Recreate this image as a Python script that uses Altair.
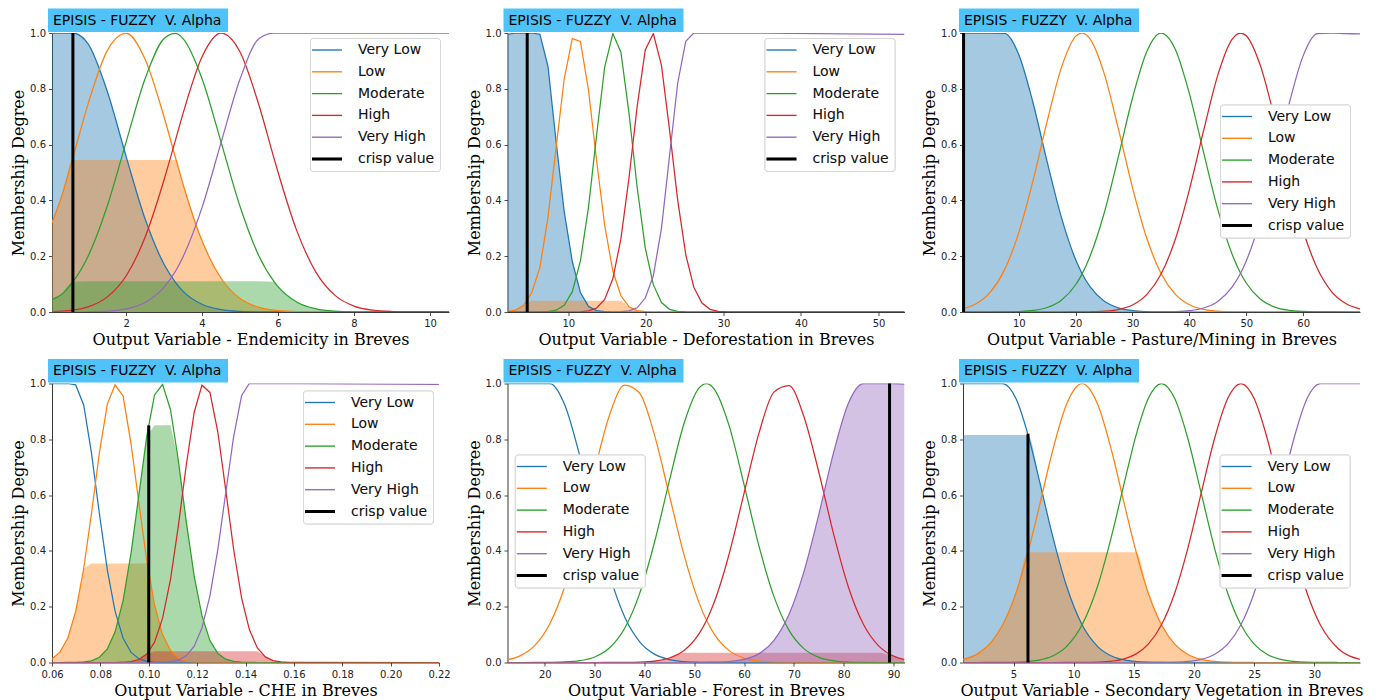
import altair as alt
import pandas as pd

SERIES = ["Very Low", "Low", "Moderate", "High", "Very High"]
LEGEND_DOMAIN = SERIES + ["crisp value"]
COLORS = ["#1f77b4", "#ff7f0e", "#2ca02c", "#d62728", "#9467bd", "#000000"]
BADGE = "EPISIS - FUZZY \u00a0V. Alpha"
Y_TICKS = [0.0, 0.2, 0.4, 0.6, 0.8, 1.0]

# ---------------- Panel 1: Endemicity ----------------
P1_X = [0.05, 0.3, 0.6, 1.0, 1.5, 2.0, 2.5, 3.0, 3.3, 3.5, 4.0, 4.5, 5.0, 5.5, 5.9, 6.0, 6.5, 7.0, 7.5, 8.0, 8.5, 9.0, 9.5, 10.0, 10.5]
P1_VL = [1.0, 1.0, 1.0, 0.961, 0.793, 0.558, 0.334, 0.171, 0.106, 0.074, 0.0276, 0.0087, 0.0023, 0.0005, 0.0001, 0.0001, 0, 0, 0, 0, 0, 0, 0, 0, 0]
P1_L = [0.32, 0.413, 0.553, 0.746, 0.936, 0.999, 0.906, 0.699, 0.553, 0.458, 0.255, 0.121, 0.0485, 0.0166, 0.0063, 0.0048, 0.0012, 0.0003, 0, 0, 0, 0, 0, 0, 0]
P1_M = [0.045, 0.063, 0.108, 0.2, 0.378, 0.609, 0.836, 0.98, 0.999, 0.98, 0.836, 0.609, 0.378, 0.2, 0.108, 0.0907, 0.035, 0.0115, 0.0032, 0.0008, 0.0002, 0, 0, 0, 0]
P1_H = [0.0016, 0.0033, 0.0071, 0.0185, 0.0533, 0.129, 0.268, 0.474, 0.616, 0.712, 0.915, 1.0, 0.932, 0.74, 0.548, 0.501, 0.289, 0.142, 0.0595, 0.0212, 0.0064, 0.0017, 0.0004, 0.0001, 0]
P1_VH = [0, 0, 0, 0.0007, 0.0031, 0.011, 0.034, 0.089, 0.146, 0.198, 0.375, 0.607, 0.835, 0.98, 1.0, 1.0, 1.0, 1.0, 1.0, 1.0, 1.0, 1.0, 1.0, 1.0, 1.0]
P1_FILL = {"Very Low": 1.0, "Low": 0.545, "Moderate": 0.11}
P1_CRISP = [0.6, 1.0]
P1_DOMAIN = [0.05, 10.5]
P1_TICKS = [2, 4, 6, 8, 10]
P1_TITLE = "Output Variable - Endemicity in Breves"

# ---------------- Panel 2: Deforestation ----------------
P2_X = [2.17, 3.21, 4.26, 5.30, 6.35, 7.39, 8.44, 9.48, 10.53, 11.57, 12.61, 13.66, 14.70, 15.75, 16.79, 17.84, 18.88, 19.93, 20.97, 22.02, 23.06, 24.11, 25.15, 26.19, 27.24, 28.28, 29.33, 30.37, 31.42, 53.35]
P2_VL = [0.995, 1.0, 1.0, 1.0, 0.995, 0.88, 0.61, 0.36, 0.18, 0.07, 0.02, 0.005, 0.001, 0, 0, 0, 0, 0, 0, 0, 0, 0, 0, 0, 0, 0, 0, 0, 0, 0]
P2_L = [0.002, 0.007, 0.024, 0.07, 0.16, 0.34, 0.59, 0.835, 0.98, 0.97, 0.795, 0.542, 0.31, 0.147, 0.058, 0.019, 0.005, 0.001, 0, 0, 0, 0, 0, 0, 0, 0, 0, 0, 0, 0]
P2_M = [0, 0, 0, 0, 0.0003, 0.0014, 0.0065, 0.024, 0.073, 0.183, 0.375, 0.635, 0.878, 0.998, 0.931, 0.711, 0.448, 0.23, 0.098, 0.034, 0.0096, 0.0023, 0.0005, 0, 0, 0, 0, 0, 0, 0]
P2_H = [0, 0, 0, 0, 0, 0, 0, 0, 0, 0.0008, 0.0038, 0.0144, 0.045, 0.119, 0.262, 0.482, 0.735, 0.939, 0.998, 0.884, 0.653, 0.401, 0.206, 0.089, 0.032, 0.0095, 0.0024, 0.0005, 0, 0]
P2_VH = [0, 0, 0, 0, 0, 0, 0, 0, 0, 0, 0, 0, 0, 0, 0.001, 0.004, 0.015, 0.05, 0.13, 0.3, 0.56, 0.82, 0.97, 1.0, 1.0, 1.0, 1.0, 1.0, 1.0, 0.995]
P2_FILL = {"Very Low": 1.0, "Low": 0.04}
P2_CRISP = [4.71, 1.0]
P2_DOMAIN = [2.17, 53.35]
P2_TICKS = [10, 20, 30, 40, 50]
P2_TITLE = "Output Variable - Deforestation in Breves"

# ---------------- Panel 3: Pasture/Mining ----------------
P3_X = [0.2, 2.5, 5, 7.5, 10, 12.5, 15, 17.5, 20, 21.1, 22.5, 25, 27.5, 30, 32.5, 35, 37.5, 40, 42.5, 45, 47.5, 49, 50, 52.5, 55, 57.5, 60, 62.5, 65, 67.5, 70]
P3_VL = [1.0, 1.0, 1.0, 0.999, 0.923, 0.751, 0.538, 0.339, 0.188, 0.139, 0.0917, 0.0394, 0.0149, 0.005, 0.0015, 0.0004, 0.0001, 0, 0, 0, 0, 0, 0, 0, 0, 0, 0, 0, 0, 0, 0]
P3_L = [0.0116, 0.0293, 0.071, 0.151, 0.284, 0.47, 0.684, 0.876, 0.988, 1.0, 0.98, 0.856, 0.658, 0.446, 0.265, 0.139, 0.0643, 0.0261, 0.0093, 0.0029, 0.0008, 0.0004, 0.0002, 0, 0, 0, 0, 0, 0, 0, 0]
P3_M = [0, 0, 0, 0.0004, 0.0016, 0.0055, 0.0162, 0.0424, 0.0976, 0.135, 0.198, 0.353, 0.555, 0.767, 0.933, 1.0, 0.943, 0.783, 0.572, 0.368, 0.208, 0.139, 0.104, 0.0455, 0.0176, 0.006, 0.0018, 0.0005, 0.0001, 0, 0]
P3_H = [0, 0, 0, 0, 0, 0, 0, 0, 0.0002, 0.0004, 0.0008, 0.0028, 0.0089, 0.0251, 0.0622, 0.135, 0.259, 0.438, 0.65, 0.849, 0.977, 1.0, 0.99, 0.882, 0.693, 0.478, 0.291, 0.156, 0.0734, 0.0304, 0.0111]
P3_VH = [0, 0, 0, 0, 0, 0, 0, 0, 0, 0, 0, 0, 0, 0, 0, 0.0004, 0.0014, 0.0047, 0.0143, 0.038, 0.0889, 0.139, 0.183, 0.332, 0.529, 0.743, 0.918, 0.998, 1.0, 0.998, 0.997]
P3_FILL = {"Very Low": 1.0}
P3_CRISP = [0.3, 1.0]
P3_DOMAIN = [0.2, 70]
P3_TICKS = [10, 20, 30, 40, 50, 60]
P3_TITLE = "Output Variable - Pasture/Mining in Breves"

# ---------------- Panel 4: CHE ----------------
P4_X = [0.0600, 0.0633, 0.0665, 0.0698, 0.0731, 0.0763, 0.0796, 0.0829, 0.0861, 0.0894, 0.0927, 0.0959, 0.0992, 0.1024, 0.1057, 0.1090, 0.1122, 0.1155, 0.1188, 0.1220, 0.1253, 0.1286, 0.1318, 0.1351, 0.1384, 0.1416, 0.1449, 0.1482, 0.1514, 0.1547, 0.1580, 0.1612, 0.2200]
P4_VL = [1.0, 1.0, 1.0, 0.995, 0.923, 0.752, 0.533, 0.33, 0.183, 0.087, 0.036, 0.0135, 0.0043, 0.0013, 0.0003, 0, 0, 0, 0, 0, 0, 0, 0, 0, 0, 0, 0, 0, 0, 0, 0, 0, 0]
P4_L = [0.0135, 0.037, 0.087, 0.183, 0.336, 0.533, 0.752, 0.927, 0.995, 0.955, 0.783, 0.573, 0.364, 0.206, 0.1, 0.043, 0.016, 0.005, 0.0015, 0.0004, 0, 0, 0, 0, 0, 0, 0, 0, 0, 0, 0, 0, 0]
P4_M = [0, 0, 0.0001, 0.0005, 0.0019, 0.0062, 0.0187, 0.049, 0.11, 0.223, 0.393, 0.6, 0.812, 0.959, 0.997, 0.906, 0.726, 0.506, 0.309, 0.168, 0.0786, 0.0321, 0.0119, 0.0037, 0.001, 0.0003, 0, 0, 0, 0, 0, 0, 0]
P4_H = [0, 0, 0, 0, 0, 0, 0, 0, 0, 0.0009, 0.0035, 0.0107, 0.0303, 0.0728, 0.158, 0.298, 0.487, 0.707, 0.897, 0.994, 0.968, 0.824, 0.62, 0.405, 0.231, 0.118, 0.052, 0.02, 0.007, 0.002, 0.0005, 0.0001, 0]
P4_VH = [0, 0, 0, 0, 0, 0, 0, 0, 0, 0, 0, 0, 0, 0.0002, 0.0008, 0.0028, 0.0086, 0.0238, 0.0584, 0.124, 0.239, 0.407, 0.606, 0.81, 0.957, 1.0, 1.0, 1.0, 1.0, 1.0, 1.0, 1.0, 0.997]
P4_FILL = {"Low": 0.355, "Moderate": 0.85, "High": 0.04}
P4_CRISP = [0.1, 0.85]
P4_DOMAIN = [0.06, 0.22]
P4_TICKS = [0.06, 0.08, 0.10, 0.12, 0.14, 0.16, 0.18, 0.20, 0.22]
P4_TITLE = "Output Variable - CHE in Breves"

# ---------------- Panel 5: Forest ----------------
P5_X = [12.5, 15, 18, 21, 24, 27, 30, 33, 36, 39, 42, 45, 48, 51, 52.4, 54, 57, 60, 63, 66, 69, 72, 75, 78, 81, 84, 87, 90, 92.2]
P5_VL = [1.0, 1.0, 1.0, 1.0, 0.923, 0.741, 0.516, 0.313, 0.164, 0.0752, 0.0299, 0.0103, 0.0031, 0.0008, 0.0004, 0.0002, 0, 0, 0, 0, 0, 0, 0, 0, 0, 0, 0, 0, 0]
P5_L = [0.0096, 0.0236, 0.0614, 0.139, 0.2725, 0.465, 0.689, 0.888, 0.994, 0.966, 0.816, 0.599, 0.382, 0.212, 0.153, 0.1019, 0.0426, 0.0155, 0.0049, 0.0013, 0.0003, 0, 0, 0, 0, 0, 0, 0, 0]
P5_M = [0, 0, 0.0001, 0.0005, 0.0018, 0.0065, 0.0198, 0.0528, 0.122, 0.246, 0.43, 0.652, 0.86, 0.985, 1.0, 0.98, 0.848, 0.637, 0.416, 0.236, 0.116, 0.0497, 0.0185, 0.006, 0.0017, 0.0004, 0, 0, 0]
P5_H = [0, 0, 0, 0, 0, 0, 0, 0.0001, 0.0003, 0.0014, 0.0051, 0.016, 0.0439, 0.1046, 0.149, 0.216, 0.389, 0.607, 0.823, 0.969, 0.992, 0.882, 0.682, 0.458, 0.267, 0.135, 0.0596, 0.0228, 0.0103]
P5_VH = [0, 0, 0, 0, 0, 0, 0, 0, 0, 0, 0, 0, 0, 0.0002, 0.0004, 0.0009, 0.0034, 0.0111, 0.0319, 0.0796, 0.172, 0.325, 0.531, 0.755, 0.932, 1.0, 1.0, 1.0, 0.998]
P5_FILL = {"High": 0.035, "Very High": 1.0}
P5_CRISP = [89.2, 1.0]
P5_DOMAIN = [12.5, 92.2]
P5_TICKS = [20, 30, 40, 50, 60, 70, 80, 90]
P5_TITLE = "Output Variable - Forest in Breves"

# ---------------- Panel 6: Secondary Vegetation ----------------
P6_X = [0.8, 2.0, 3.2, 4.1, 5.2, 6.2, 7.2, 8.2, 9.4, 10.7, 12.0, 13.2, 14.2, 15.2, 16.2, 17.3, 18.4, 19.5, 20.6, 21.7, 22.8, 23.9, 25.0, 26.1, 27.2, 28.3, 29.4, 30.5, 32.0, 33.8]
P6_VL = [1.0, 1.0, 1.0, 1.0, 0.946, 0.817, 0.643, 0.462, 0.275, 0.135, 0.057, 0.0223, 0.0092, 0.0035, 0.0012, 0.0003, 0, 0, 0, 0, 0, 0, 0, 0, 0, 0, 0, 0, 0, 0]
P6_L = [0.0111, 0.031, 0.0756, 0.135, 0.249, 0.395, 0.57, 0.751, 0.925, 1.0, 0.925, 0.751, 0.57, 0.395, 0.249, 0.135, 0.0657, 0.0286, 0.0111, 0.0039, 0.0012, 0.0003, 0, 0, 0, 0, 0, 0, 0, 0]
P6_M = [0, 0, 0.0001, 0.0003, 0.0012, 0.0035, 0.0092, 0.0223, 0.057, 0.135, 0.275, 0.462, 0.643, 0.817, 0.946, 1.0, 0.946, 0.801, 0.607, 0.411, 0.249, 0.135, 0.0657, 0.0286, 0.0111, 0.0039, 0.0012, 0.0003, 0, 0]
P6_H = [0, 0, 0, 0, 0, 0, 0, 0, 0.0001, 0.0003, 0.0015, 0.0052, 0.0133, 0.031, 0.0657, 0.135, 0.249, 0.411, 0.607, 0.801, 0.946, 1.0, 0.946, 0.801, 0.607, 0.411, 0.249, 0.135, 0.0492, 0.0111]
P6_VH = [0, 0, 0, 0, 0, 0, 0, 0, 0, 0, 0, 0, 0, 0, 0.0001, 0.0003, 0.0012, 0.0039, 0.0111, 0.0286, 0.0657, 0.135, 0.249, 0.411, 0.607, 0.801, 0.946, 1.0, 1.0, 1.0]
P6_FILL = {"Very Low": 0.815, "Low": 0.395}
P6_CRISP = [6.2, 0.82]
P6_DOMAIN = [0.8, 33.8]
P6_TICKS = [5, 10, 15, 20, 25, 30]
P6_TITLE = "Output Variable - Secondary Vegetation in Breves"


def panel(xs, curves, fills, crisp, domain, ticks, xtitle, fmt, interp, legend_xy, width, height):
    rows = []
    for name, ys in zip(SERIES, curves):
        for x, y in zip(xs, ys):
            rows.append({"kind": "curve", "x": x, "y": y, "y1": None, "series": name, "t": None})
    for name, level in fills.items():
        ys = curves[SERIES.index(name)]
        for x, y in zip(xs, ys):
            rows.append({"kind": "fill", "x": x, "y": min(y, level), "y1": None, "series": name, "t": None})
    rows.append({"kind": "crisp", "x": crisp[0], "y": 0.0, "y1": crisp[1], "series": "crisp value", "t": None})
    rows.append({"kind": "badge", "x": None, "y": None, "y1": None, "series": None, "t": BADGE})
    df = pd.DataFrame(rows)

    xscale = alt.Scale(domain=domain, nice=False, zero=False)
    yscale = alt.Scale(domain=[0, 1], nice=False)
    xaxis = alt.Axis(values=ticks, format=fmt, title=xtitle, grid=False,
                     labelFlush=False, labelOverlap=False)
    yaxis = alt.Axis(values=Y_TICKS, format=".1f", title="Membership Degree", grid=False,
                     labelFlush=False, labelOverlap=False)
    cscale = alt.Scale(domain=LEGEND_DOMAIN, range=COLORS)
    legend = alt.Legend(
        title=None, orient="none", legendX=legend_xy[0], legendY=legend_xy[1],
        symbolType="M-1,0H2", symbolSize=400, labelOffset=29,
        symbolStrokeWidth={"expr": "datum.value == 'crisp value' ? 3 : 1.3"},
        labelFont="DejaVu Sans", labelFontSize=14, labelColor="#111111",
        rowPadding=7.8, padding=5,
        fillColor="rgba(255,255,255,0.85)", strokeColor="#d6d6d6", cornerRadius=3,
    )

    base = alt.Chart(df)
    area = base.transform_filter(alt.datum.kind == "fill").mark_area(
        opacity=0.4, interpolate=interp, clip=True).encode(
        x=alt.X("x:Q", scale=xscale, axis=xaxis),
        y=alt.Y("y:Q", scale=yscale, axis=yaxis, stack=False),
        fill=alt.Fill("series:N", scale=cscale, legend=None),
    )
    lines = base.transform_filter(alt.datum.kind == "curve").mark_line(
        strokeWidth=1.25, interpolate=interp, clip=True).encode(
        x=alt.X("x:Q", scale=xscale, axis=xaxis),
        y=alt.Y("y:Q", scale=yscale, axis=yaxis),
        color=alt.Color("series:N", scale=cscale, legend=legend),
    )
    rule = base.transform_filter(alt.datum.kind == "crisp").mark_rule(strokeWidth=3).encode(
        x=alt.X("x:Q", scale=xscale, axis=xaxis),
        y=alt.Y("y:Q", scale=yscale, axis=yaxis),
        y2="y1:Q",
        color=alt.Color("series:N", scale=cscale, legend=legend),
    )
    brect = base.transform_filter(alt.datum.kind == "badge").mark_rect(color="#4fc3f7").encode(
        x=alt.value(-4), x2=alt.value(176), y=alt.value(-24.5), y2=alt.value(-1)
    )
    btext = base.transform_filter(alt.datum.kind == "badge").mark_text(
        align="left", baseline="middle", font="DejaVu Sans", fontSize=14, color="#000000").encode(
        x=alt.value(1), y=alt.value(-12.5), text="t:N"
    )
    return alt.layer(area, lines, rule, brect, btext).properties(
        width=width, height=height
    ).resolve_legend(color="independent")


W, H = 397, 279
p1 = panel(P1_X, [P1_VL, P1_L, P1_M, P1_H, P1_VH], P1_FILL, P1_CRISP, P1_DOMAIN, P1_TICKS,
           P1_TITLE, "d", "monotone", (258, 5), W, H)
p2 = panel(P2_X, [P2_VL, P2_L, P2_M, P2_H, P2_VH], P2_FILL, P2_CRISP, P2_DOMAIN, P2_TICKS,
           P2_TITLE, "d", "linear", (257, 5), W, H)
p3 = panel(P3_X, [P3_VL, P3_L, P3_M, P3_H, P3_VH], P3_FILL, P3_CRISP, P3_DOMAIN, P3_TICKS,
           P3_TITLE, "d", "monotone", (257, 71.5), W, H)
p4 = panel(P4_X, [P4_VL, P4_L, P4_M, P4_H, P4_VH], P4_FILL, P4_CRISP, P4_DOMAIN, P4_TICKS,
           P4_TITLE, ".2f", "linear", (251, 7), 387, H)
p5 = panel(P5_X, [P5_VL, P5_L, P5_M, P5_H, P5_VH], P5_FILL, P5_CRISP, P5_DOMAIN, P5_TICKS,
           P5_TITLE, "d", "monotone", (7.3, 71), W, H)
p6 = panel(P6_X, [P6_VL, P6_L, P6_M, P6_H, P6_VH], P6_FILL, P6_CRISP, P6_DOMAIN, P6_TICKS,
           P6_TITLE, "d", "monotone", (256.6, 71), W, H)

chart = alt.concat(
    p1, p2, p3, p4, p5, p6, columns=3,
    spacing={"row": 71.5, "column": 58.5}, bounds="flush",
).properties(
    padding={"left": 10, "top": 8, "right": 5, "bottom": 5}
).configure_view(strokeWidth=0).configure_axis(
    labelFont="DejaVu Sans", labelFontSize=10, labelColor="#222222", labelPadding=3,
    tickSize=3.5, tickWidth=0.8, tickColor="#222222",
    domainColor="#222222", domainWidth=0.9,
    titleFont="DejaVu Serif", titleFontSize=16, titleFontWeight="normal", titleColor="#000000",
    titlePadding=3,
)

chart.save("out.html", embed_options={"renderer": "svg", "actions": False})
